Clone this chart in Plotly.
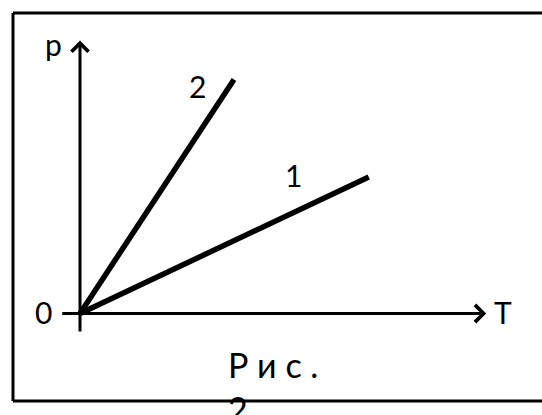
import plotly.graph_objects as go

# Data (units of the diagram)
line1_T = [0, 7.5]
line1_p = [0, 3.5]
line2_T = [0, 4]
line2_p = [0, 6]
axis_T = [-0.5, 10.55]
axis_p = [-0.5, 7.0]
labels = ["1", "2"]
caption = "Р и с .<br>2"

FONT = "Lato"
W, H = 542, 415

fig = go.Figure()
fig.add_trace(go.Scatter(x=line1_T, y=line1_p, mode="lines",
                         line=dict(color="black", width=5.5), showlegend=False, hoverinfo="skip"))
fig.add_trace(go.Scatter(x=line2_T, y=line2_p, mode="lines",
                         line=dict(color="black", width=5.5), showlegend=False, hoverinfo="skip"))

ann = []
ann.append(dict(x=axis_T[1], y=0, ax=axis_T[0], ay=0, xref="x", yref="y", axref="x", ayref="y",
                showarrow=True, arrowhead=4, arrowwidth=3, arrowsize=1.1, arrowcolor="black", text=""))
ann.append(dict(x=0, y=axis_p[1], ax=0, ay=axis_p[0], xref="x", yref="y", axref="x", ayref="y",
                showarrow=True, arrowhead=4, arrowwidth=3, arrowsize=1.1, arrowcolor="black", text=""))

lf = dict(family=FONT, size=30, color="black")
ann.append(dict(x=-0.70, y=6.9, text="p", showarrow=False, font=lf, xanchor="center", yanchor="middle"))
ann.append(dict(x=-0.96, y=0.03, text="0", showarrow=False, font=lf, xanchor="center", yanchor="middle"))
ann.append(dict(x=10.98, y=0.03, text="T", showarrow=False, font=lf, xanchor="center", yanchor="middle"))
ann.append(dict(x=line1_T[1] - 1.95, y=line1_p[1] + 0.04, text=labels[0], showarrow=False, font=lf,
                xanchor="center", yanchor="middle"))
ann.append(dict(x=line2_T[1] - 0.95, y=line2_p[1] - 0.16, text=labels[1], showarrow=False, font=lf,
                xanchor="center", yanchor="middle"))
ann.append(dict(x=3.80, y=-0.72, text=caption, showarrow=False, align="left",
                font=dict(family=FONT, size=34, color="black"), xanchor="left", yanchor="top"))

# frame: left, top and bottom edges (right edge lies outside the picture)
L, T_, B = 13 / W, 1 - 13 / H, 1 - 401 / H
frame = dict(color="black", width=3)
shapes = [
    dict(type="line", xref="paper", yref="paper", x0=L, x1=1.1, y0=T_, y1=T_, line=frame),
    dict(type="line", xref="paper", yref="paper", x0=L, x1=L, y0=B, y1=T_, line=frame),
    dict(type="line", xref="paper", yref="paper", x0=L, x1=1.1, y0=B, y1=B, line=frame),
]

fig.update_layout(
    width=W, height=H,
    margin=dict(l=0, r=0, t=0, b=0),
    paper_bgcolor="white", plot_bgcolor="white",
    xaxis=dict(range=[-2.078, 12.0], visible=False, fixedrange=True),
    yaxis=dict(range=[-2.603, 8.038], visible=False, fixedrange=True),
    annotations=ann,
    shapes=shapes,
)
fig.write_html("out.html", config={"displayModeBar": False},
               post_script="document.body.style.margin='0';document.body.style.overflow='hidden';")
